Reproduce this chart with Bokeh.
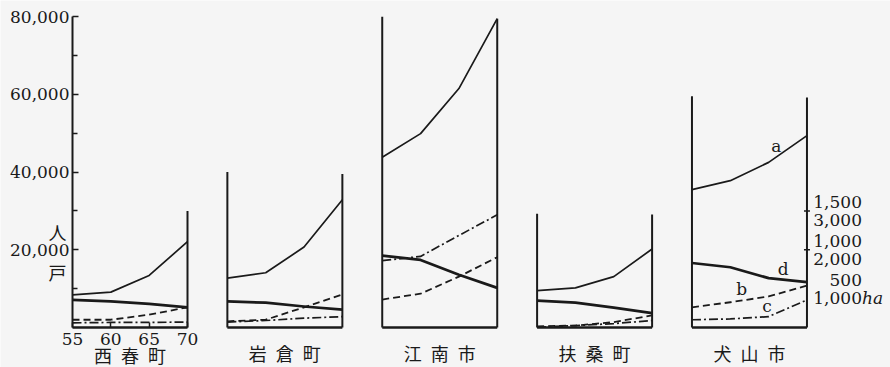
import numpy as np
from bokeh.plotting import figure
from bokeh.models import Range1d, FixedTicker, NumeralTickFormatter
from bokeh.embed import file_html
from bokeh.resources import INLINE
from bokeh.core.properties import value

# ---------------- data ----------------
YEARS = [55, 60, 65, 70]
TOWNS = ["西春町", "岩倉町", "江南市", "扶桑町", "犬山市"]

# a: thin solid line
SERIES_A = [
    [8400, 9100, 13400, 22100],
    [12700, 14100, 20700, 32900],
    [43800, 49900, 61500, 79500],
    [9500, 10200, 13100, 20200],
    [35500, 37800, 42500, 49400],
]
# b: dashed line
SERIES_B = [
    [2000, 2000, 3300, 5200],
    [1600, 2000, 5200, 8500],
    [7200, 8700, 13100, 18100],
    [300, 500, 1400, 3100],
    [5200, 6500, 8000, 10800],
]
# c: dash-dot line
SERIES_C = [
    [1200, 1300, 1300, 1400],
    [1400, 1800, 2400, 2800],
    [17200, 18300, 23700, 29000],
    [100, 500, 1000, 1800],
    [2000, 2200, 2800, 7100],
]
# d: thick solid line
SERIES_D = [
    [7100, 6700, 6100, 5200],
    [6700, 6400, 5400, 4600],
    [18500, 17400, 13600, 10200],
    [6900, 6400, 5100, 3700],
    [16600, 15500, 12700, 11700],
]
SERIES_NAMES = ["a", "b", "c", "d"]

# heights of each panel's side lines (left-axis units)
LEFT_TOP = [80000, 40000, 80000, 29300, 59500]
RIGHT_TOP = [30000, 39500, 79500, 29100, 59200]

Y_TICKS = [20000, 40000, 60000, 80000]
Y_MINOR = [10000, 30000, 50000, 70000]
X_TICKS = [55, 60, 65, 70]
RIGHT_TICKS_FARMS = [500, 1000, 1500]     # upper labels on the right scale
RIGHT_TICKS_AREA = [1000, 2000, 3000]     # lower labels (ha)
FARMS_FACTOR = 20                          # 1,500 <-> 30,000
AREA_FACTOR = 10                           # 3,000 ha <-> 30,000

# ---------------- layout / style ----------------
W, H = 890, 367
AXIS_PX = 72            # pixel column of the left axis
BASE_PX = 327           # pixel row of the zero line
PX_PER_YEAR = 115 / 15
PX_PER_UNIT = 3.885 / 1000
PANEL_GAP = 20.2
X_START = YEARS[0] - AXIS_PX / PX_PER_YEAR
X_END = YEARS[0] + (W - AXIS_PX) / PX_PER_YEAR
Y_START = -(H - BASE_PX) / PX_PER_UNIT
Y_END = BASE_PX / PX_PER_UNIT
INK = "#1a1a1a"
PAPER = "#f5f5f5"
SERIF = "DejaVu Serif"
CJK = "Noto Sans CJK JP"

STYLES = {
    "a": dict(line_width=1.7),
    "b": dict(line_width=1.8, line_dash="7 4"),
    "c": dict(line_width=1.7, line_dash="9 3 2 3"),
    "d": dict(line_width=2.7),
}
LABEL_YEAR = {"a": 66.0, "b": 61.5, "c": 64.8, "d": 66.9}

p = figure(width=W, height=H, output_backend="svg", toolbar_location=None,
           x_range=Range1d(X_START, X_END), y_range=Range1d(Y_START, Y_END),
           min_border_left=0, min_border_right=0,
           min_border_top=0, min_border_bottom=0,
           background_fill_color=PAPER, border_fill_color=PAPER,
           outline_line_color=None)
p.grid.visible = False
p.extra_y_ranges = {
    "farms": Range1d(Y_START / FARMS_FACTOR, Y_END / FARMS_FACTOR),
    "area": Range1d(Y_START / AREA_FACTOR, Y_END / AREA_FACTOR),
}

# left axis (drawn at the first panel's left edge)
ax = p.yaxis[0]
ax.fixed_location = YEARS[0]
ax.ticker = FixedTicker(ticks=Y_TICKS, minor_ticks=Y_MINOR)
ax.formatter = NumeralTickFormatter(format="0,0")
ax.bounds = (0, 80000)
ax.axis_line_width = 2
ax.axis_line_color = INK
ax.major_tick_in = 6
ax.major_tick_out = 0
ax.minor_tick_in = 5
ax.minor_tick_out = 0
ax.major_tick_line_width = 1.5
ax.minor_tick_line_width = 1.5
ax.major_tick_line_color = INK
ax.minor_tick_line_color = INK
ax.major_label_standoff = 3
ax.major_label_text_font = SERIF
ax.major_label_text_font_size = "17px"
ax.major_label_text_color = INK

# bottom axis (years, first panel only)
bx = p.xaxis[0]
bx.fixed_location = 0
bx.ticker = FixedTicker(ticks=X_TICKS, minor_ticks=[])
bx.bounds = (YEARS[0], YEARS[-1])
bx.axis_line_width = 2.6
bx.axis_line_color = INK
bx.major_tick_in = 5
bx.major_tick_out = 0
bx.major_tick_line_width = 1.5
bx.major_tick_line_color = INK
bx.major_label_standoff = 5
bx.major_label_text_font = SERIF
bx.major_label_text_font_size = "17px"
bx.major_label_text_color = INK

all_series = [SERIES_A, SERIES_B, SERIES_C, SERIES_D]

for i in range(len(TOWNS)):
    off = i * PANEL_GAP
    xs = [yr + off for yr in YEARS]
    # frame of each panel
    if i > 0:
        p.segment(x0=[YEARS[0] + off], y0=[0], x1=[YEARS[0] + off], y1=[LEFT_TOP[i]],
                  line_color=INK, line_width=2)
        p.segment(x0=[YEARS[0] + off], y0=[0], x1=[YEARS[-1] + off], y1=[0],
                  line_color=INK, line_width=2.6)
    p.segment(x0=[YEARS[-1] + off], y0=[0], x1=[YEARS[-1] + off], y1=[RIGHT_TOP[i]],
              line_color=INK, line_width=2)
    # series
    for name, series in zip(SERIES_NAMES, all_series):
        p.line(xs, series[i], line_color=INK, line_join="round", **STYLES[name])
    # town name
    p.text(x=[(YEARS[0] + YEARS[-1]) / 2 + off], y=[0], text=["\u2002".join(TOWNS[i])],
           y_offset=27 if i == 0 else 25, text_align="center", text_baseline="middle",
           text_font=value(CJK), text_font_size="18px", text_color=INK)

# series letters on the last panel
last = len(TOWNS) - 1
for name, series in zip(SERIES_NAMES, all_series):
    yr = LABEL_YEAR[name]
    p.text(x=[yr + last * PANEL_GAP], y=[float(np.interp(yr, YEARS, series[last]))],
           text=[name], y_offset=-11, text_align="center", text_baseline="middle",
           text_font=value(SERIF), text_font_size="17px", text_color=INK)

# right-hand scale of the last panel
xr = YEARS[-1] + last * PANEL_GAP
p.scatter(x=[xr] * len(RIGHT_TICKS_FARMS[1:]), y=RIGHT_TICKS_FARMS[1:], y_range_name="farms",
          marker="dash", size=6, line_color=INK, line_width=1.5)
p.text(x=[xr] * len(RIGHT_TICKS_FARMS), y=RIGHT_TICKS_FARMS, y_range_name="farms",
       text=[f"{v:,}" for v in RIGHT_TICKS_FARMS], x_offset=55, y_offset=-9,
       text_align="right", text_baseline="middle",
       text_font=value(SERIF), text_font_size="17px", text_color=INK)
p.text(x=[xr] * len(RIGHT_TICKS_AREA), y=RIGHT_TICKS_AREA, y_range_name="area",
       text=[f"{v:,}" for v in RIGHT_TICKS_AREA], x_offset=55, y_offset=9,
       text_align="right", text_baseline="middle",
       text_font=value(SERIF), text_font_size="17px", text_color=INK)
p.text(x=[xr], y=[RIGHT_TICKS_AREA[0]], y_range_name="area", text=["ha"],
       x_offset=55, y_offset=9, text_align="left", text_baseline="middle",
       text_font=value(SERIF), text_font_style="italic", text_font_size="17px",
       text_color=INK)

# unit marks beside 20,000
p.text(x=[YEARS[0]] * 2, y=[Y_TICKS[0]] * 2, text=["人", "戸"], x_offset=-6,
       y_offset=[-18, 22], text_align="right", text_baseline="middle",
       text_font=value(CJK), text_font_size="18px", text_color=INK)

open("out.html", "w").write(file_html(p, INLINE))
